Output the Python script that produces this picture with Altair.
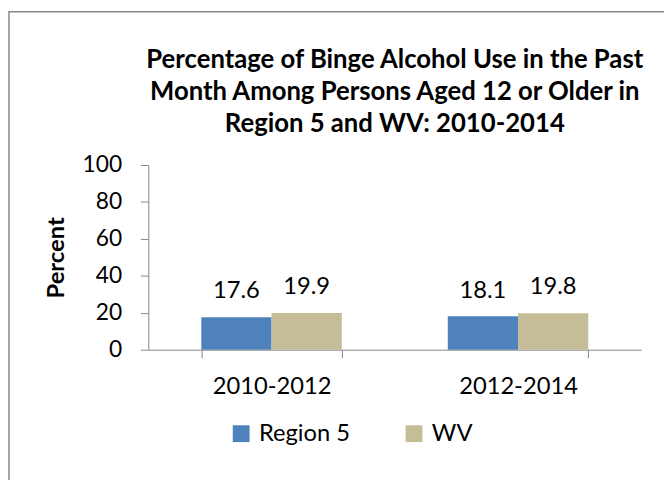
import altair as alt
import pandas as pd

periods = ["2010-2012", "2012-2014"]
series = ["Region 5", "WV"]
region5 = [17.6, 18.1]
wv = [19.9, 19.8]
colors = ["#4F81BD", "#C4BD97"]

rows = []
for i, p in enumerate(periods):
    rows.append({"period": p, "series": "Region 5", "value": region5[i]})
    rows.append({"period": p, "series": "WV", "value": wv[i]})
df = pd.DataFrame(rows)

FONT = "Lato"
AXC = "#868686"

x = alt.X("period:N", title=None, sort=periods,
          scale=alt.Scale(paddingInner=0.43, paddingOuter=0.215),
          axis=alt.Axis(labelAngle=0, labelFontSize=24, labelFont=FONT, labelColor="black",
                        tickBand="extent", tickSize=8, labelPadding=17,
                        domainColor=AXC, tickColor=AXC))
xo = alt.XOffset("series:N", sort=series, scale=alt.Scale(paddingInner=0, paddingOuter=0))
y = alt.Y("value:Q", title="Percent",
          scale=alt.Scale(domain=[0, 100]),
          axis=alt.Axis(values=[0, 20, 40, 60, 80, 100], grid=False, labelFontSize=23, labelFont=FONT,
                        labelColor="black", tickSize=8, labelPadding=19,
                        domainColor=AXC, tickColor=AXC,
                        titleFont=FONT, titleFontSize=24, titleFontWeight="bold", titleColor="black",
                        titleX=-93, titleY=93.5, titleAngle=270, titleAlign="center",
                        titleBaseline="middle"))

color = alt.Color("series:N", sort=series, title=None,
                  scale=alt.Scale(domain=series, range=colors),
                  legend=alt.Legend(orient="none", direction="horizontal", legendX=82, legendY=260,
                                    symbolType="square", symbolSize=289, symbolStrokeWidth=0,
                                    labelFont=FONT, labelFontSize=24, labelColor="black",
                                    columnPadding=52, labelOffset=6))

bars = alt.Chart(df).mark_bar().encode(x=x, xOffset=xo, y=y, color=color)
labels = alt.Chart(df).mark_text(font=FONT, fontSize=24, baseline="alphabetic", dy=-19, color="black").encode(
    x=x, xOffset=xo, y=y, text=alt.Text("value:Q", format=".1f"))

frame = alt.Chart(pd.DataFrame({"a": [0]})).mark_rect(fill=None, stroke="#888888", strokeWidth=1.5, clip=False).encode(
    x=alt.value(-141), x2=alt.value(700), y=alt.value(-155), y2=alt.value(600))

chart = alt.layer(frame, bars, labels).properties(
    width=499, height=187,
    title=alt.Title(
        text=["Percentage of Binge Alcohol Use in the Past",
              "Month Among Persons Aged 12 or Older in",
              "Region 5 and WV: 2010-2014"],
        font=FONT, fontSize=26, fontWeight="bold", color="black",
        anchor="middle", frame="group", baseline="alphabetic", offset=0, dy=148, lineHeight=32),
    autosize=alt.AutoSizeParams(type="none"),
    padding={"left": 142, "top": 156, "right": 23, "bottom": 129},
).configure_view(stroke=None)

chart.save("out.html", embed_options={"renderer": "svg", "actions": False})
